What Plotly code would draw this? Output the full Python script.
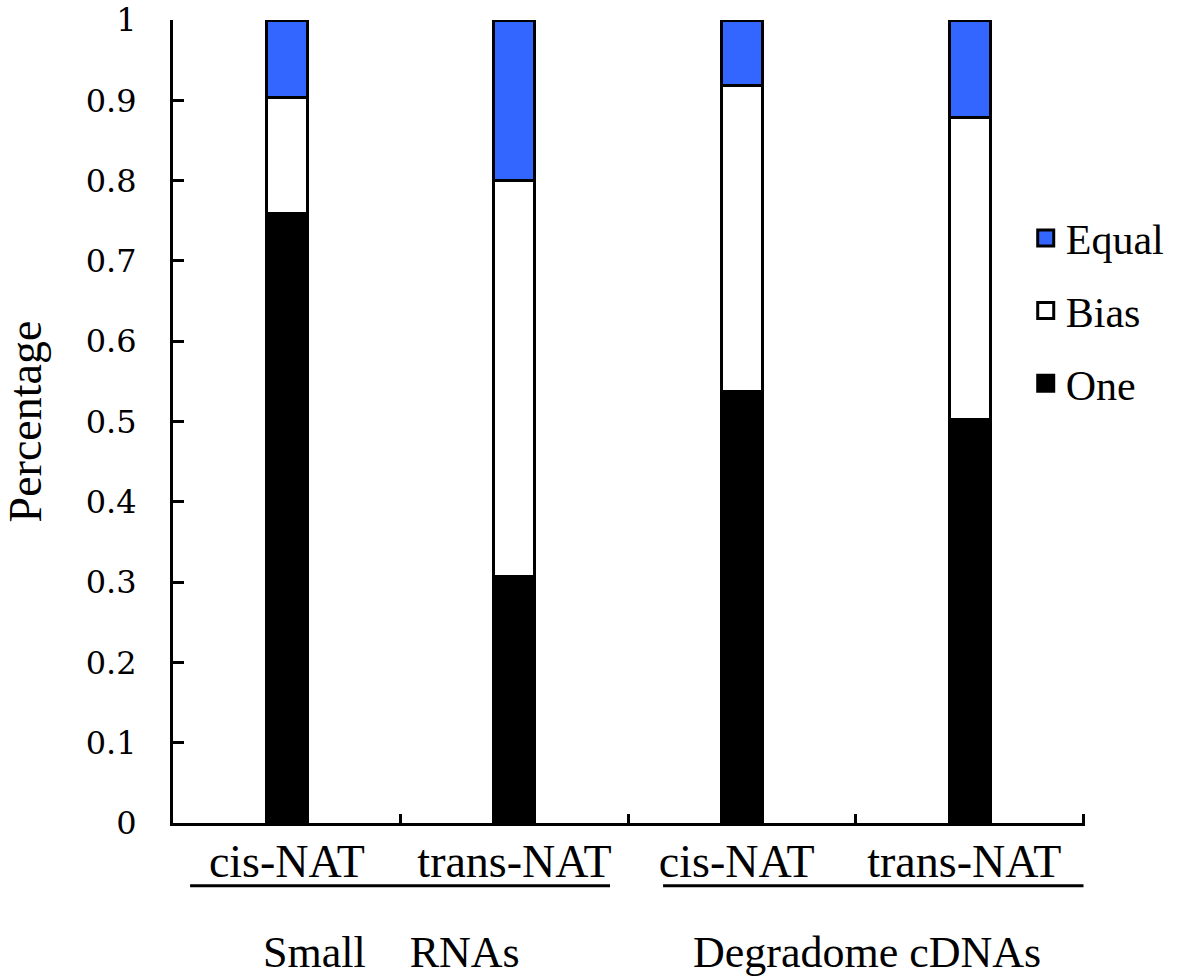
import plotly.graph_objects as go

categories = ["cis-NAT", "trans-NAT", "cis-NAT ", "trans-NAT "]
one_vals = [0.759, 0.307, 0.537, 0.503]
bias_vals = [0.144, 0.493, 0.381, 0.375]
equal_vals = [0.097, 0.200, 0.082, 0.122]
group_labels = ["Small\u00a0\u00a0\u00a0\u00a0RNAs", "Degradome cDNAs"]
y_ticks = [0, 0.1, 0.2, 0.3, 0.4, 0.5, 0.6, 0.7, 0.8, 0.9, 1]

FONT = "Liberation Serif"
BLUE = "#3366FF"

fig = go.Figure()
series = [("One", one_vals, "black"), ("Bias", bias_vals, "white"), ("Equal", equal_vals, BLUE)]
for name, vals, col in series:
    fig.add_trace(go.Bar(
        x=categories, y=vals, name=name, width=0.18,
        marker=dict(color=col, line=dict(color="black", width=3)),
        showlegend=False,
    ))

# legend entries (larger square symbols), top to bottom: Equal, Bias, One
for name, vals, col in reversed(series):
    fig.add_trace(go.Scatter(
        x=[None], y=[None], mode="markers", name=name, legendgroup=name,
        marker=dict(symbol="square", size=16, color=col, line=dict(color="black", width=3)),
    ))

fig.update_layout(
    barmode="stack",
    width=1200, height=980,
    margin=dict(l=173, r=115, t=20, b=157),
    plot_bgcolor="white", paper_bgcolor="white",
    font=dict(family=FONT, size=40, color="black"),
    legend=dict(
        x=0.935, xanchor="left", y=0.638, yanchor="middle",
        traceorder="grouped", tracegroupgap=15,
        font=dict(family=FONT, size=42), bgcolor="rgba(0,0,0,0)",
        itemsizing="trace",
    ),
    xaxis=dict(
        automargin=False,
        showline=True, linecolor="black", linewidth=3,
        ticks="inside", tickson="boundaries", ticklen=9, tickwidth=3, tickcolor="black",
        ticklabelstandoff=-4,
        tickfont=dict(family=FONT, size=46),
        showgrid=False, zeroline=False,
    ),
    yaxis=dict(
        automargin=False,
        range=[0, 1], tickvals=y_ticks, ticktext=[f"{v:g}" for v in y_ticks],
        ticklabeloverflow="allow",
        showline=True, linecolor="black", linewidth=3,
        ticks="inside", ticklen=11, tickwidth=3, tickcolor="black",
        ticklabelstandoff=27,
        tickfont=dict(family="DejaVu Serif", size=32),
        showgrid=False, zeroline=False,
        title=dict(text="Percentage", font=dict(family=FONT, size=46), standoff=50),
    ),
)

# group underlines
fig.add_shape(type="line", xref="x", yref="paper", x0=-0.425, x1=1.42, y0=-0.078, y1=-0.078,
              line=dict(color="black", width=3))
fig.add_shape(type="line", xref="x", yref="paper", x0=1.653, x1=3.5, y0=-0.078, y1=-0.078,
              line=dict(color="black", width=3))

# group labels
fig.add_annotation(x=0.46, y=-0.161, xref="x", yref="paper", text=group_labels[0],
                   showarrow=False, font=dict(family=FONT, size=44), yanchor="middle")
fig.add_annotation(x=2.55, y=-0.161, xref="x", yref="paper", text=group_labels[1],
                   showarrow=False, font=dict(family=FONT, size=44), yanchor="middle")

fig.write_html("out.html", post_script="document.body.style.margin='0';",
               config={"displayModeBar": False})
